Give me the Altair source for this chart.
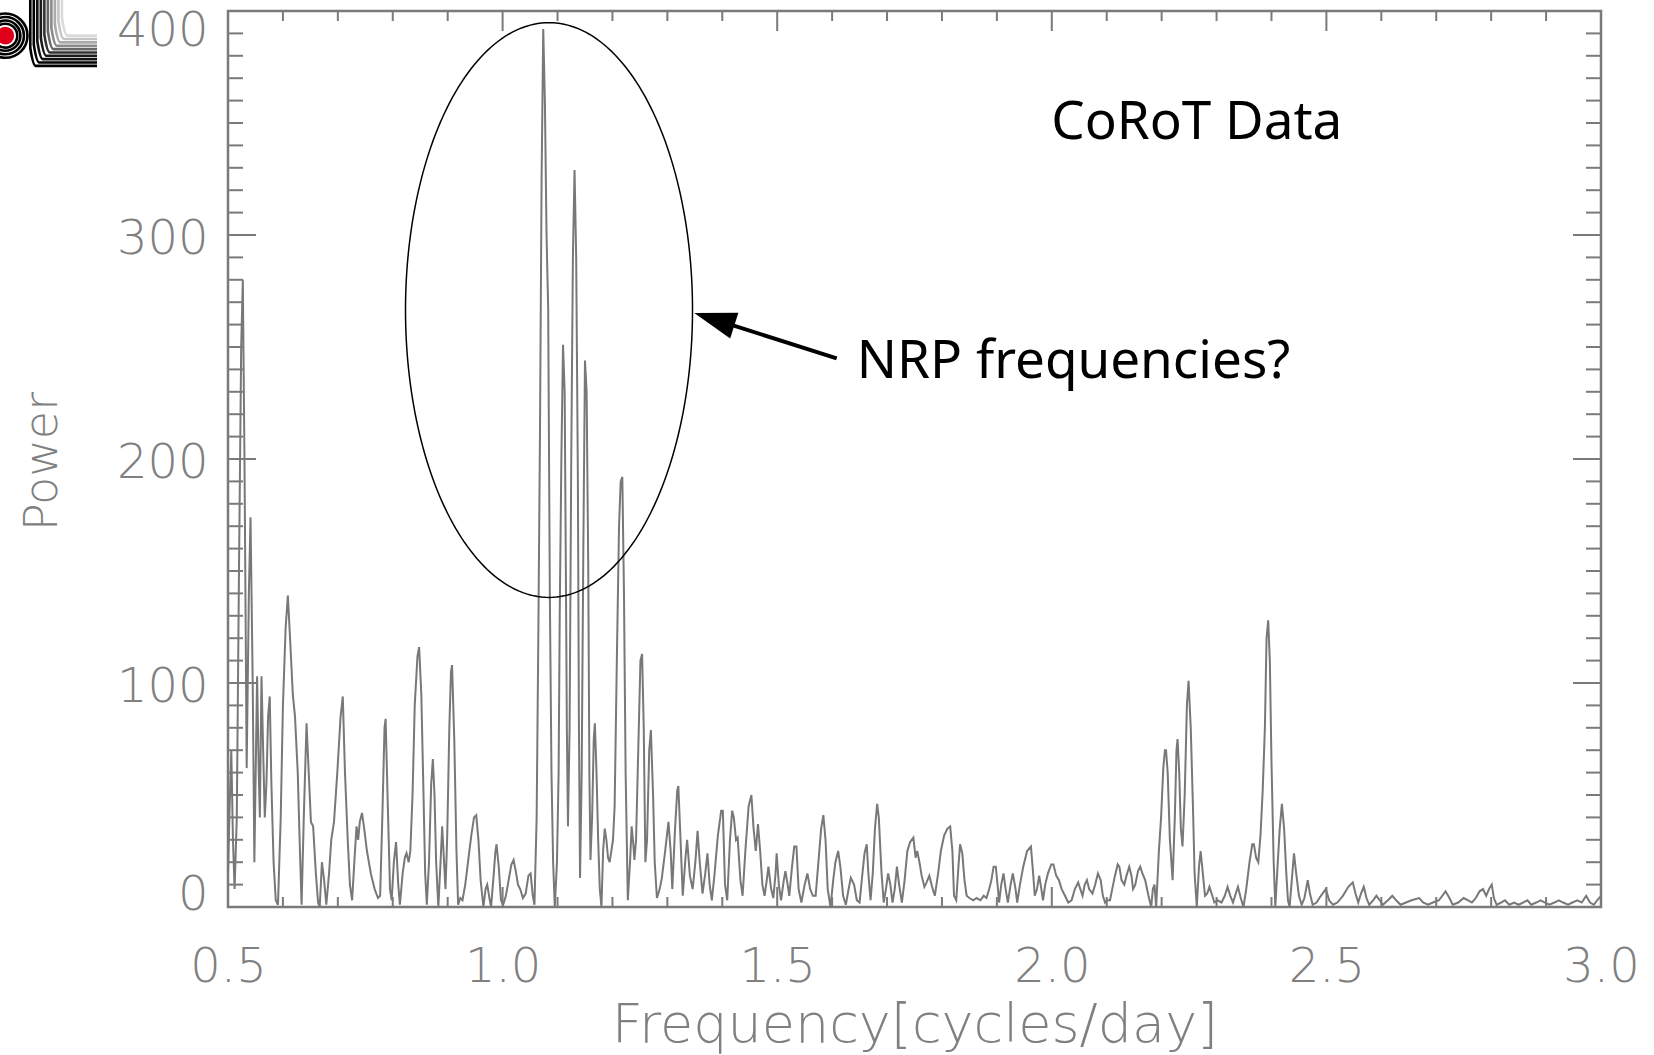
import altair as alt
import numpy as np
import pandas as pd

# ---------------- data ----------------
freq = [
0.500,0.503,0.506,0.509,0.512,0.516,0.520,0.524,0.527,0.530,0.534,0.538,0.541,0.545,0.548,0.551,0.553,0.556,0.558,0.561,
0.564,0.567,0.570,0.573,0.576,0.579,0.583,0.587,0.591,0.596,0.600,0.605,0.609,0.613,0.618,0.622,0.627,0.631,0.634,0.638,
0.643,0.647,0.651,0.655,0.660,0.664,0.667,0.671,0.675,0.679,0.684,0.688,0.693,0.699,0.705,0.709,0.713,0.718,0.722,0.726,
0.730,0.734,0.737,0.740,0.744,0.748,0.753,0.760,0.767,0.773,0.777,0.781,0.785,0.787,0.791,0.795,0.798,0.802,0.806,0.810,
0.813,0.818,0.822,0.825,0.829,0.832,0.836,0.840,0.845,0.848,0.852,0.856,0.859,0.862,0.866,0.870,0.873,0.876,0.879,0.883,
0.887,0.890,0.893,0.896,0.899,0.903,0.906,0.908,0.912,0.916,0.919,0.923,0.927,0.932,0.937,0.943,0.948,0.952,0.956,0.960,
0.965,0.969,0.972,0.976,0.979,0.983,0.987,0.989,0.993,0.997,1.001,1.006,1.011,1.016,1.020,1.024,1.028,1.032,1.037,1.042,
1.047,1.051,1.055,1.058,1.062,1.065,1.068,1.071,1.074,1.077,1.080,1.083,1.086,1.089,1.092,1.095,1.099,1.102,1.104,1.107,
1.110,1.113,1.115,1.117,1.119,1.122,1.125,1.128,1.131,1.134,1.137,1.139,1.141,1.144,1.147,1.150,1.153,1.156,1.158,1.160,
1.163,1.166,1.168,1.171,1.174,1.177,1.180,1.183,1.186,1.189,1.192,1.195,1.198,1.201,1.204,1.208,1.212,1.215,1.218,1.221,
1.224,1.228,1.232,1.235,1.238,1.240,1.243,1.247,1.251,1.254,1.257,1.260,1.263,1.267,1.270,1.274,1.277,1.281,1.286,1.290,
1.296,1.302,1.306,1.309,1.314,1.318,1.320,1.324,1.328,1.333,1.336,1.341,1.346,1.351,1.355,1.359,1.364,1.369,1.373,1.377,
1.381,1.386,1.392,1.398,1.401,1.405,1.409,1.414,1.418,1.421,1.425,1.428,1.433,1.437,1.442,1.448,1.453,1.457,1.461,1.465,
1.469,1.473,1.477,1.481,1.484,1.489,1.493,1.497,1.499,1.503,1.507,1.512,1.515,1.519,1.522,1.527,1.531,1.535,1.539,1.544,
1.550,1.555,1.560,1.565,1.570,1.575,1.580,1.584,1.588,1.592,1.597,1.602,1.606,1.611,1.615,1.620,1.625,1.630,1.634,1.640,
1.645,1.650,1.654,1.659,1.663,1.666,1.670,1.674,1.678,1.682,1.685,1.690,1.694,1.698,1.702,1.706,1.710,1.714,1.718,1.722,
1.727,1.732,1.737,1.742,1.748,1.752,1.755,1.759,1.763,1.768,1.772,1.777,1.782,1.787,1.793,1.798,1.804,1.810,1.815,1.819,
1.822,1.826,1.830,1.833,1.837,1.841,1.845,1.850,1.857,1.863,1.870,1.876,1.881,1.886,1.890,1.894,1.898,1.902,1.904,1.908,
1.912,1.916,1.920,1.925,1.929,1.934,1.937,1.942,1.948,1.955,1.962,1.966,1.969,1.973,1.977,1.981,1.984,1.988,1.993,1.999,
2.003,2.008,2.013,2.018,2.024,2.030,2.036,2.042,2.048,2.052,2.056,2.060,2.064,2.068,2.074,2.079,2.084,2.089,2.093,2.097,
2.101,2.106,2.110,2.115,2.120,2.123,2.127,2.132,2.136,2.141,2.145,2.148,2.152,2.157,2.161,2.165,2.170,2.176,2.181,2.184,
2.187,2.190,2.195,2.199,2.203,2.206,2.208,2.211,2.215,2.220,2.224,2.227,2.229,2.232,2.235,2.238,2.242,2.246,2.249,2.253,
2.257,2.260,2.264,2.268,2.271,2.275,2.279,2.283,2.287,2.291,2.296,2.302,2.309,2.315,2.320,2.325,2.330,2.335,2.339,2.344,
2.349,2.354,2.360,2.365,2.368,2.372,2.376,2.380,2.384,2.388,2.391,2.394,2.397,2.400,2.404,2.407,2.411,2.415,2.419,2.423,
2.427,2.430,2.433,2.437,2.441,2.445,2.450,2.455,2.460,2.466,2.470,2.475,2.482,2.490,2.499,2.505,2.512,2.520,2.530,2.540,
2.548,2.553,2.558,2.563,2.568,2.573,2.578,2.585,2.591,2.597,2.603,2.612,2.620,2.627,2.635,2.645,2.655,2.669,2.676,2.685,
2.694,2.705,2.717,2.724,2.730,2.740,2.750,2.758,2.765,2.772,2.779,2.785,2.791,2.796,2.801,2.805,2.810,2.818,2.825,2.833,
2.842,2.850,2.858,2.866,2.873,2.882,2.890,2.898,2.906,2.915,2.923,2.931,2.940,2.948,2.957,2.965,2.973,2.980,2.987,2.993,
3.000,
]
power = [
15,45,70,30,8,40,150,250,280,200,62,140,174,100,20,70,103,60,40,103,
70,40,55,85,94,55,20,3,1,40,90,125,139,120,95,85,60,25,1,40,
82,60,38,36,15,2,0,20,12,1,15,30,38,60,85,94,60,30,10,3,
20,36,30,38,42,35,25,15,8,4,5,40,80,84,45,8,3,20,29,10,
1,15,22,24,20,25,50,90,112,116,95,50,15,1,20,55,66,50,20,0,
20,36,22,8,30,80,105,108,75,25,1,4,3,10,20,32,40,41,30,12,
0,8,10,4,0,12,25,28,18,3,1,5,12,19,21,16,10,8,4,6,
14,15,5,1,40,120,210,325,392,360,300,267,140,60,20,0,20,60,130,200,
251,230,157,80,36,80,200,290,329,290,194,80,13,60,160,244,230,150,60,21,
40,75,82,60,30,8,0,25,35,30,22,20,25,30,45,110,170,190,192,140,
60,3,20,36,28,21,30,70,110,113,80,20,30,70,79,50,20,4,8,13,
25,38,25,8,35,52,54,30,5,22,30,14,8,20,34,20,6,15,24,10,
3,15,32,43,43,10,3,30,43,40,30,31,12,5,25,45,50,35,25,37,
25,10,5,12,18,8,4,15,24,10,3,12,16,10,5,18,27,27,8,2,
10,15,8,5,5,20,35,41,30,8,0,12,20,25,18,5,1,8,13,10,
3,2,12,24,28,15,3,15,35,46,40,15,2,8,15,10,2,8,18,10,
2,12,25,29,31,22,25,20,14,9,11,14,9,5,15,25,32,35,36,25,
5,3,18,28,24,12,5,4,3,4,3,5,4,8,12,18,18,8,2,10,
15,8,2,10,15,8,2,10,18,25,27,15,5,8,14,8,3,10,15,19,
19,14,12,8,5,2,3,8,11,8,5,10,12,8,6,10,15,12,5,2,
3,3,8,14,19,18,12,10,14,18,14,8,10,16,18,15,12,5,0,8,
10,0,25,40,62,70,70,60,30,12,40,70,75,60,35,27,50,90,101,80,
45,15,0,18,25,15,5,6,9,6,2,3,2,5,9,5,2,6,9,4,
0,8,20,28,28,22,20,32,52,80,120,128,110,65,20,0,18,35,46,35,
15,3,0,12,24,15,5,1,4,12,6,1,2,5,8,3,1,2,5,9,
11,6,2,6,9,4,1,3,5,3,1,3,5,3,1,2,3,4,2,1,
2,3,7,4,1,2,4,3,2,4,7,8,5,8,10,4,1,2,3,1,
2,1,2,3,1,2,3,2,1,2,3,2,1,2,3,2,5,2,1,3,
5,
]

x_label_values = [0.5, 1.0, 1.5, 2.0, 2.5, 3.0]
y_label_values = [0, 100, 200, 300, 400]
x_major_ticks = [1.0, 1.5, 2.0, 2.5]
x_minor_ticks = [0.6, 0.7, 0.8, 0.9, 1.1, 1.2, 1.3, 1.4, 1.6, 1.7, 1.8, 1.9,
                 2.1, 2.2, 2.3, 2.4, 2.6, 2.7, 2.8, 2.9]
y_major_ticks = [100, 200, 300]
y_minor_ticks = [v for v in range(10, 400, 10) if v % 100 != 0]

ellipse_center = (1.0845, 266.5)
ellipse_radii = (0.2613, 128.3)
arrow_tail = (1.6083, 244.9)
arrow_shaft_end = (1.401, 261.1)
arrow_tip = (1.349, 265.2)
notes_text = ["CoRoT Data", "NRP frequencies?"]
notes_x = [2.264, 1.645]
notes_y = [350.0, 243.3]
notes_align = ["center", "left"]

# logo in the top-left corner (outside the plot), read in data units
logo_center = (0.0945, 389.0)
logo_ring_radii_px = [25, 21, 17, 13.5]     # ring sizes (style)
logo_red_radius_px = 10
logo_strokes_x = [0.1400, 0.1464, 0.1528, 0.1592, 0.1656, 0.1720, 0.1784, 0.1848, 0.1912, 0.1976]
logo_strokes_level = [375.5, 377.0, 378.5, 380.0, 381.5, 383.0, 384.5, 386.0, 387.5, 389.0]
logo_strokes_end = 0.2615
logo_strokes_color = ["#000000", "#000000", "#111111", "#1a1a1a", "#333333",
                      "#666666", "#8a8a8a", "#aaaaaa", "#c4c4c4", "#dadada"]

# ---------------- chart ----------------
W, H = 1373, 896
GRAY = "#808080"
AX = "#7a7a7a"
FONT = "DejaVu Sans"

xs = alt.Scale(domain=[0.5, 3.0], nice=False, zero=False)
ys = alt.Scale(domain=[0, 400], nice=False)

df = pd.DataFrame({"freq": freq, "power": power})

x_axis = alt.Axis(values=x_label_values, format=".1f", grid=False, ticks=False, domain=False,
                  labelFont=FONT, labelFontSize=48, labelColor=GRAY, labelFontWeight=300,
                  labelPadding=36, labelFlush=False, labelOverlap=False,
                  title="Frequency[cycles/day]", titleFont=FONT, titleFontSize=54,
                  titleFontWeight=300, titleColor=GRAY, titleY=118, titleBaseline="middle")
y_axis = alt.Axis(values=y_label_values, grid=False, ticks=False, domain=False,
                  labelFont=FONT, labelFontSize=48, labelColor=GRAY, labelFontWeight=300,
                  labelPadding=20, labelOffset=4, labelOverlap=False, labelFlush=True,
                  labelFlushOffset=8,
                  title="Power", titleFont=FONT, titleFontSize=46, titleFontWeight=300,
                  titleColor=GRAY, titleAngle=270, titleX=-186, titleY=450,
                  titleBaseline="middle", titleAlign="center")


def X(field):
    return alt.X(field, scale=xs, axis=x_axis)


def Y(field):
    return alt.Y(field, scale=ys, axis=y_axis)


line = alt.Chart(df).mark_line(color="#787878", strokeWidth=2).encode(
    x=X("freq:Q"), y=Y("power:Q"))


def xticks(vals, length):
    d = pd.DataFrame({"v": vals})
    bottom = alt.Chart(d).mark_rule(color=AX, strokeWidth=2).encode(
        x=X("v:Q"), y=alt.value(H), y2=alt.value(H - length))
    top = alt.Chart(d).mark_rule(color=AX, strokeWidth=2).encode(
        x=X("v:Q"), y=alt.value(0), y2=alt.value(length))
    return [bottom, top]


def yticks(vals, length):
    d = pd.DataFrame({"v": vals})
    left = alt.Chart(d).mark_rule(color=AX, strokeWidth=2).encode(
        y=Y("v:Q"), x=alt.value(0), x2=alt.value(length))
    right = alt.Chart(d).mark_rule(color=AX, strokeWidth=2).encode(
        y=Y("v:Q"), x=alt.value(W), x2=alt.value(W - length))
    return [left, right]


t = np.linspace(0, 2 * np.pi, 241)
ell = pd.DataFrame({
    "ex": ellipse_center[0] + ellipse_radii[0] * np.cos(t),
    "ey": ellipse_center[1] + ellipse_radii[1] * np.sin(t),
    "i": np.arange(len(t)),
})
ellipse = alt.Chart(ell).mark_line(color="black", strokeWidth=1.5).encode(
    x=X("ex:Q"), y=Y("ey:Q"), order="i:Q")

shaft_df = pd.DataFrame({"x1": [arrow_tail[0]], "y1": [arrow_tail[1]],
                         "x2": [arrow_shaft_end[0]], "y2": [arrow_shaft_end[1]]})
shaft = alt.Chart(shaft_df).mark_rule(color="black", strokeWidth=4).encode(
    x=X("x1:Q"), y=Y("y1:Q"), x2="x2:Q", y2="y2:Q")

head_df = pd.DataFrame({"x": [arrow_tip[0]], "y": [arrow_tip[1]]})
head = alt.Chart(head_df).mark_point(
    shape="M0,0 L4.2,-1.35 L4.2,1.35 Z", size=400, angle=17.7,
    filled=True, color="black", opacity=1, strokeWidth=0).encode(
    x=X("x:Q"), y=Y("y:Q"))

notes_layers = []
for txt, nx, ny, al in zip(notes_text, notes_x, notes_y, notes_align):
    d = pd.DataFrame({"x": [nx], "y": [ny], "t": [txt]})
    notes_layers.append(alt.Chart(d).mark_text(
        font="Noto Sans", fontSize=53, color="black", align=al, baseline="middle").encode(
        x=X("x:Q"), y=Y("y:Q"), text="t:N"))

# ---- logo (decoration outside the plot) ----
rows = []
for k, (sx, lv, col) in enumerate(zip(logo_strokes_x, logo_strokes_level, logo_strokes_color)):
    rows.append({"k": k, "o": 0, "x": sx, "y": 406.0, "c": col})
    rows.append({"k": k, "o": 1, "x": sx, "y": lv + 8.0, "c": col})
    rows.append({"k": k, "o": 2, "x": sx + 0.010, "y": lv, "c": col})
    rows.append({"k": k, "o": 3, "x": sx + 0.040, "y": lv, "c": col})
    rows.append({"k": k, "o": 4, "x": logo_strokes_end, "y": lv, "c": col})
logo_df = pd.DataFrame(rows)
logo_lines = alt.Chart(logo_df).mark_line(
    strokeWidth=2.6, interpolate="monotone", clip=False).encode(
    x=X("x:Q"), y=Y("y:Q"), detail="k:N", order="o:Q",
    color=alt.Color("c:N", scale=None))

logo_pt = pd.DataFrame({"x": [logo_center[0]], "y": [logo_center[1]]})
logo_layers = []
for r in logo_ring_radii_px:
    logo_layers.append(alt.Chart(logo_pt).mark_point(
        shape="circle", size=float(np.pi * r * r), filled=False, color="black",
        strokeWidth=2.6, opacity=1, clip=False).encode(x=X("x:Q"), y=Y("y:Q")))
logo_layers.append(alt.Chart(logo_pt).mark_point(
    shape="circle", size=float(np.pi * logo_red_radius_px ** 2), filled=True,
    color="#e0001a", opacity=1, clip=False).encode(x=X("x:Q"), y=Y("y:Q")))

layers = [line] + xticks(x_minor_ticks, 10) + xticks(x_major_ticks, 20) \
    + yticks(y_minor_ticks, 15) + yticks(y_major_ticks, 28) + [ellipse, shaft, head] \
    + notes_layers + [logo_lines] + logo_layers

chart = alt.layer(*layers).properties(
    width=W, height=H,
    autosize=alt.AutoSizeParams(type="none"),
    padding={"left": 228, "top": 11, "right": 53, "bottom": 148},
    background="white",
).configure_view(stroke=AX, strokeWidth=2.5)

chart.save("out.html", embed_options={"renderer": "svg", "actions": False})
